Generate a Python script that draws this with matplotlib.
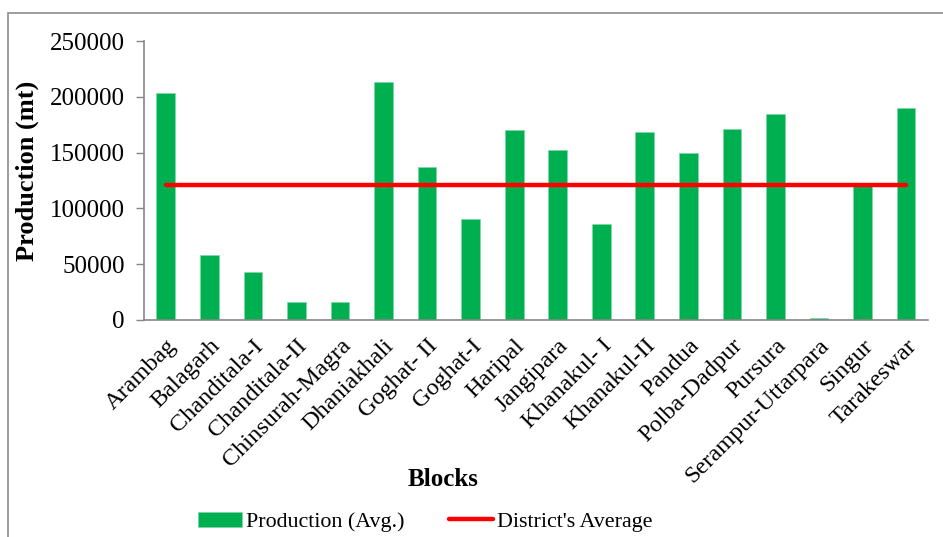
import matplotlib.pyplot as plt
import matplotlib.patches as mpatches
import numpy as np

plt.rcParams.update({"font.family": "serif", "font.serif": ["Liberation Serif", "DejaVu Serif"], "font.size": 18})

# Datos
blocks = ['Arambag', 'Balagarh', 'Chanditala-I', 'Chanditala-II', 'Chinsurah-Magra',
          'Dhaniakhali', 'Goghat- II', 'Goghat-I', 'Haripal', 'Jangipara', 'Khanakul- I',
          'Khanakul-II', 'Pandua', 'Polba-Dadpur', 'Pursura', 'Serampur-Uttarpara',
          'Singur', 'Tarakeswar']
production = [203000, 58500, 42700, 15800, 16400, 213000, 137400, 90800, 170500,
              152600, 85700, 168100, 149300, 171400, 184900, 1500, 120000, 190200]
district_avg = 120600
yticks = [0, 50000, 100000, 150000, 200000, 250000]

fig = plt.figure(figsize=(9.43, 5.37), dpi=100)
ax = fig.add_axes([0.1527, 0.4041, 0.8313, 0.5195])

x = np.arange(len(blocks))
barras = ax.bar(x, production, width=0.43, color='#00B050', edgecolor='#7fd8a7', linewidth=0.5,
                label='Production (Avg.)', zorder=2)
linha, = ax.plot(x, [district_avg]*len(blocks), color='#FF0000', lw=3.2, solid_capstyle='round',
                 label="District's Average", zorder=3)

ax.set_xlim(-0.5, len(blocks) - 0.5)
ax.set_ylim(0, 250000)
ax.set_yticks(yticks)
ax.set_yticklabels([str(v) for v in yticks])
ax.set_xticks(x)
ax.set_xticklabels(blocks, rotation=45, ha='right', rotation_mode='anchor', fontsize=17.5)
ax.tick_params(axis='x', length=0, pad=11)
ax.tick_params(axis='y', length=6, color='#868686', width=1, pad=8)

for s in ['top', 'right']:
	ax.spines[s].set_visible(False)
for s in ['left', 'bottom']:
	ax.spines[s].set_color('#868686')
	ax.spines[s].set_linewidth(1.2)

ax.set_ylabel('Production (mt)', fontweight='bold', fontsize=19)
ax.yaxis.set_label_coords(-0.134, 0.534)
ax.set_xlabel('Blocks', fontweight='bold', fontsize=18)
ax.xaxis.set_label_coords(0.381, -0.53)

fig.legend([barras, linha], ['Production (Avg.)', "District's Average"],
           loc='center', bbox_to_anchor=(0.451, 0.028), ncol=2, frameon=False, fontsize=15.8,
           handlelength=2.0, handletextpad=0.2, columnspacing=2.0)

# borde del grafico
fig.patches.append(mpatches.Rectangle((8/943, -0.2), 1.2, 1.2 - 13/537, transform=fig.transFigure,
                                      fill=False, edgecolor='#8c8c8c', lw=1.2))

plt.savefig('out.png', dpi=100)
